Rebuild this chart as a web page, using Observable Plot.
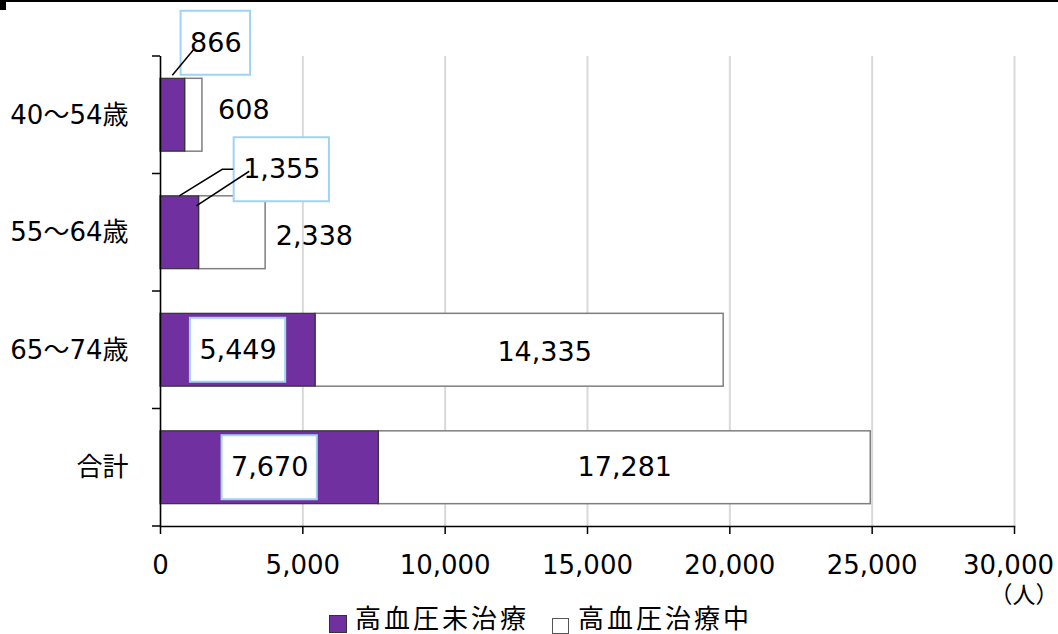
<!DOCTYPE html>
<html>
<head>
<meta charset="utf-8">
<script src="https://cdn.jsdelivr.net/npm/d3@7"></script>
<script src="https://cdn.jsdelivr.net/npm/@observablehq/plot@0.6"></script>
<style>
  body { margin: 0; background: #fff; }
  #wrap { position: relative; width: 1058px; height: 634px; overflow: hidden;
          font-family: "DejaVu Sans", "Noto Sans CJK JP", sans-serif; }
  #chart svg { display: block; }
  .top-rule { position: absolute; left: 0; top: 0; width: 1058px; height: 2px; background: #000; }
  .corner { position: absolute; left: 0; top: 0; width: 6px; height: 10px; background: #000; }
  #legend { position: relative; height: 30px; font-size: 26px; color: #000; }
  #legend .swatch { position: absolute; box-sizing: border-box; }
  #legend .name { position: absolute; top: 0; line-height: 30px; letter-spacing: 3px; white-space: nowrap; }
</style>
</head>
<body>
<div id="wrap">
  <div id="chart"></div>
  <div id="legend"></div>
  <div class="top-rule"></div>
  <div class="corner"></div>
</div>
<script>
// Age groups and the number of people with high blood pressure
const categories = ["40～54歳", "55～64歳", "65～74歳", "合計"];
const untreated = [866, 1355, 5449, 7670];    // 高血圧未治療
const treated = [608, 2338, 14335, 17281];    // 高血圧治療中
const seriesNames = ["高血圧未治療", "高血圧治療中"];
const xTicks = [0, 5000, 10000, 15000, 20000, 25000, 30000];
const unitLabel = "（人）";

// Label placement: pixel shifts from the centre of each segment
const untreatedShift = [[43, -72], [102, -63], [0, 0], [0, 0]];
const treatedShift = [[50, -5], [82, 4], [25, 2], [0, 0]];
// Leader lines: start relative to the top of the purple segment, then points relative to the label box
const leaders = [
  {row: 0, from: [0, -3], to: [[-21, 6]]},
  {row: 1, from: [0, 0], to: [[-59, 0], [-48, 0]]},
  {row: 1, from: [17, 10], to: [[-32, 2]]}
];

const purple = "#7030a0";
const fmt = d3.format(",");
const labelSize = 27;

const rows = categories.map((category, i) => ({
  category,
  untreated: untreated[i],
  treated: treated[i],
  total: untreated[i] + treated[i]
}));

// Boxes behind the untreated-value labels
function labelBoxes(index, scales) {
  const g = d3.create("svg:g");
  const bw = scales.y.bandwidth();
  rows.forEach((d, i) => {
    const text = fmt(d.untreated);
    const digits = text.replace(/,/g, "").length;
    const commas = text.length - digits;
    const w = (digits * 0.636 + commas * 0.318) * labelSize + 18;
    const h = 64;
    const cx = scales.x(d.untreated / 2) + untreatedShift[i][0];
    const cy = scales.y(d.category) + bw / 2 + untreatedShift[i][1];
    g.append("rect")
      .attr("x", cx - w / 2).attr("y", cy - h / 2)
      .attr("width", w).attr("height", h)
      .attr("fill", "#fff").attr("stroke", "#9fd3f4").attr("stroke-width", 2);
  });
  return g.node();
}

function leaderLines(index, scales) {
  const g = d3.create("svg:g");
  const bw = scales.y.bandwidth();
  for (const l of leaders) {
    const d = rows[l.row];
    const sx = scales.x(d.untreated / 2);
    const top = scales.y(d.category);
    const bx = sx + untreatedShift[l.row][0];
    const by = top + bw / 2 + untreatedShift[l.row][1];
    const pts = [[sx + l.from[0], top + l.from[1]], ...l.to.map(([dx, dy]) => [bx + dx, by + dy])];
    g.append("path")
      .attr("d", d3.line()(pts))
      .attr("fill", "none").attr("stroke", "#000").attr("stroke-width", 1.5);
  }
  return g.node();
}

// Tick marks between the categories on the vertical axis
function categoryTicks(index, scales) {
  const g = d3.create("svg:g");
  const y = scales.y;
  const step = y.step();
  const start = y(categories[0]) - (step - y.bandwidth()) / 2;
  const x0 = scales.x(0);
  for (let k = 0; k <= categories.length; k++) {
    const yy = start + k * step;
    g.append("line")
      .attr("x1", x0 - 8).attr("x2", x0)
      .attr("y1", yy).attr("y2", yy)
      .attr("stroke", "#000").attr("stroke-width", 1.5);
  }
  return g.node();
}

const untreatedLabels = rows.map((d, i) => Plot.text([d], {
  x: r => r.untreated / 2, y: "category", text: r => fmt(r.untreated),
  dx: untreatedShift[i][0], dy: untreatedShift[i][1], fontSize: labelSize, fill: "#000"
}));
const treatedLabels = rows.map((d, i) => Plot.text([d], {
  x: r => r.untreated + r.treated / 2, y: "category", text: r => fmt(r.treated),
  dx: treatedShift[i][0], dy: treatedShift[i][1], fontSize: labelSize, fill: "#000"
}));

const lastTick = xTicks[xTicks.length - 1];

const chart = Plot.plot({
  width: 1058,
  height: 604,
  marginLeft: 160,
  marginRight: 44,
  marginTop: 56,
  marginBottom: 78,
  style: {
    fontFamily: '"DejaVu Sans", "Noto Sans CJK JP", sans-serif',
    fontSize: "26px",
    color: "#000",
    background: "transparent",
    overflow: "visible"
  },
  x: {domain: [0, 30000], label: null},
  y: {domain: categories, paddingInner: 0.38, paddingOuter: 0.19, round: false, label: null},
  marks: [
    Plot.gridX(xTicks, {stroke: "#d9d9d9", strokeOpacity: 1, strokeWidth: 2}),
    Plot.barX(rows, {y: "category", x1: d => d.untreated, x2: d => d.total,
      fill: "#fff", stroke: "#7f7f7f", strokeWidth: 1.5}),
    Plot.barX(rows, {y: "category", x1: d => 0, x2: d => d.untreated,
      fill: purple, stroke: "#333", strokeWidth: 1.2}),
    labelBoxes,
    leaderLines,
    ...untreatedLabels,
    ...treatedLabels,
    Plot.ruleX([0], {stroke: "#000", strokeWidth: 1.5}),
    Plot.frame({anchor: "bottom", stroke: "#000", strokeWidth: 1.5}),
    categoryTicks,
    // tick marks for every value, labels for all but the last one
    Plot.axisX(xTicks, {
      tickFormat: d => (d === lastTick ? "" : fmt(d)),
      tickSize: 8, tickPadding: 21, strokeWidth: 1.5, label: null
    }),
    // the last label sits slightly inward so it stays inside the page
    Plot.axisX([lastTick], {tickFormat: d => fmt(d), tickSize: 0, tickPadding: 29, dx: -6, label: null}),
    Plot.axisY({tickSize: 0, tickPadding: 32, label: null}),
    Plot.text([unitLabel], {frameAnchor: "bottom-right", dx: 44, dy: 76, text: d => d,
      textAnchor: "end", fontSize: 23, fontFamily: '"Noto Sans CJK JP", sans-serif'})
  ]
});
document.getElementById("chart").appendChild(chart);

// Legend below the chart
const legend = d3.select("#legend");
const legendItems = [
  {name: seriesNames[0], fill: purple, stroke: "#333", box: [329, 11, 18, 18], text: 355},
  {name: seriesNames[1], fill: "#fff", stroke: "#555", box: [552, 14, 17, 16], text: 578}
];
for (const it of legendItems) {
  legend.append("div").attr("class", "swatch")
    .style("left", it.box[0] + "px").style("top", it.box[1] + "px")
    .style("width", it.box[2] + "px").style("height", it.box[3] + "px")
    .style("background", it.fill).style("border", "1px solid " + it.stroke);
  legend.append("div").attr("class", "name")
    .style("left", it.text + "px").text(it.name);
}
</script>
</body>
</html>
